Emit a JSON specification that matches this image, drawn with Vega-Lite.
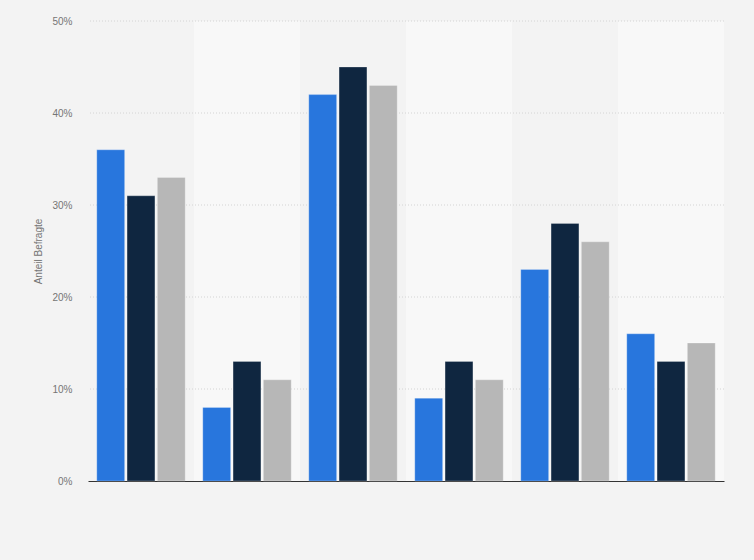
{
  "$schema": "https://vega.github.io/schema/vega-lite/v6.json",
  "width": 636,
  "height": 460,
  "autosize": {"type": "none"},
  "padding": {"left": 88, "top": 21, "right": 30, "bottom": 79},
  "background": "#f3f3f3",
  "config": {"view": {"stroke": null}, "font": "Liberation Sans"},
  "datasets": {
    "bars": [
      {"g": "G1", "s": "A", "v": 36}, {"g": "G1", "s": "B", "v": 31}, {"g": "G1", "s": "C", "v": 33},
      {"g": "G2", "s": "A", "v": 8}, {"g": "G2", "s": "B", "v": 13}, {"g": "G2", "s": "C", "v": 11},
      {"g": "G3", "s": "A", "v": 42}, {"g": "G3", "s": "B", "v": 45}, {"g": "G3", "s": "C", "v": 43},
      {"g": "G4", "s": "A", "v": 9}, {"g": "G4", "s": "B", "v": 13}, {"g": "G4", "s": "C", "v": 11},
      {"g": "G5", "s": "A", "v": 23}, {"g": "G5", "s": "B", "v": 28}, {"g": "G5", "s": "C", "v": 26},
      {"g": "G6", "s": "A", "v": 16}, {"g": "G6", "s": "B", "v": 13}, {"g": "G6", "s": "C", "v": 15}
    ],
    "groups": [{"g": "G1"}, {"g": "G2"}, {"g": "G3"}, {"g": "G4"}, {"g": "G5"}, {"g": "G6"}],
    "grid": [{"y": 10}, {"y": 20}, {"y": 30}, {"y": 40}, {"y": 50}]
  },
  "layer": [
    {
      "data": {"name": "groups"},
      "mark": {"type": "bar"},
      "encoding": {
        "x": {"field": "g", "type": "nominal", "scale": {"paddingInner": 0, "paddingOuter": 0},
              "axis": {"labels": false, "ticks": false, "title": null, "grid": false, "domain": true, "domainColor": "#333333", "domainWidth": 1}},
        "y": {"datum": 50, "type": "quantitative", "scale": {"domain": [0, 50]},
              "axis": {"title": "Anteil Befragte", "values": [0, 10, 20, 30, 40, 50], "labelExpr": "datum.value + '%'", "grid": false, "domain": false, "ticks": false, "labelPadding": 16, "labelColor": "#757575", "labelFontSize": 10, "titleColor": "#757575", "titleFontSize": 10, "titleFontWeight": "normal", "titlePadding": 8}},
        "y2": {"datum": 0},
        "color": {"condition": {"test": "datum.g === 'G2' || datum.g === 'G4' || datum.g === 'G6'", "value": "#f8f8f8"}, "value": "#f3f3f3"}
      }
    },
    {
      "data": {"name": "grid"},
      "mark": {"type": "rule", "color": "#d4d4d4", "strokeDash": [1, 2], "strokeWidth": 1},
      "encoding": {
        "y": {"field": "y", "type": "quantitative", "scale": {"domain": [0, 50]},
              "axis": {"title": "Anteil Befragte", "values": [0, 10, 20, 30, 40, 50], "labelExpr": "datum.value + '%'", "grid": false, "domain": false, "ticks": false, "labelPadding": 16, "labelColor": "#757575", "labelFontSize": 10, "titleColor": "#757575", "titleFontSize": 10, "titleFontWeight": "normal", "titlePadding": 8}}
      }
    },
    {
      "data": {"name": "bars"},
      "mark": {"type": "bar", "stroke": "#ffffff", "strokeOpacity": 0.25, "strokeWidth": 1},
      "encoding": {
        "x": {"field": "g", "type": "nominal", "scale": {"paddingInner": 0, "paddingOuter": 0},
              "axis": {"labels": false, "ticks": false, "title": null, "grid": false, "domain": true, "domainColor": "#333333", "domainWidth": 1}},
        "xOffset": {"field": "s", "type": "nominal", "scale": {"paddingInner": 0.08, "paddingOuter": 0.29}},
        "y": {"field": "v", "type": "quantitative", "scale": {"domain": [0, 50]},
              "axis": {"title": "Anteil Befragte", "values": [0, 10, 20, 30, 40, 50], "labelExpr": "datum.value + '%'", "grid": false, "domain": false, "ticks": false, "labelPadding": 16, "labelColor": "#757575", "labelFontSize": 10, "titleColor": "#757575", "titleFontSize": 10, "titleFontWeight": "normal", "titlePadding": 8}},
        "color": {"field": "s", "type": "nominal", "scale": {"domain": ["A", "B", "C"], "range": ["#2876dd", "#0f2640", "#b7b7b7"]}, "legend": null}
      }
    }
  ]
}
